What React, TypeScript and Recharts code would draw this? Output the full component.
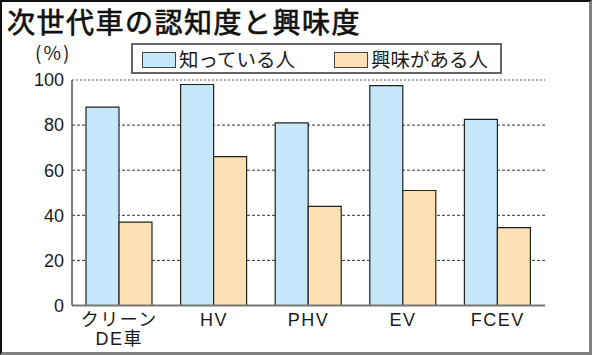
import { BarChart, Bar, XAxis, YAxis, CartesianGrid, ReferenceLine, Legend } from 'recharts'

const categories = ['クリーン\nDE車', 'HV', 'PHV', 'EV', 'FCEV']
const knownValues = [88, 98, 81, 97.5, 82.5]
const interestValues = [37, 66, 44, 51, 34.5]
const seriesNames = ['知っている人', '興味がある人']
const yTicks = [0, 20, 40, 60, 80, 100]

const JP = '"Noto Sans CJK JP", "Noto Sans", sans-serif'
const LATIN_JP = '"Liberation Sans", "Noto Sans CJK JP", sans-serif'
const BLUE = '#c6e7f9'
const ORANGE = '#fde1b4'

const data = categories.map((name, i) => ({
  name,
  known: knownValues[i],
  interest: interestValues[i],
}))

function CategoryTick({ x, y, payload }: any) {
  const lines = String(payload.value).split('\n')
  return (
    <text x={x} y={y} textAnchor="middle" fill="#1a1a1a" fontSize={18} fontFamily={LATIN_JP}>
      {lines.map((l, i) => (
        <tspan key={i} x={x} dy={i === 0 ? 12 : 19} letterSpacing={1.5}>
          {l}
        </tspan>
      ))}
    </text>
  )
}

function LegendBox() {
  const item = (left: number, color: string, label: string) => (
    <>
      <div
        style={{
          position: 'absolute',
          left,
          top: 7,
          width: 32,
          height: 14,
          background: color,
          border: '1px solid #444',
        }}
      />
      <div style={{ position: 'absolute', left: left + 37, top: 0, lineHeight: '27px' }}>{label}</div>
    </>
  )
  return (
    <div
      style={{
        position: 'relative',
        width: 367,
        height: 27,
        border: '2px solid #666',
        background: '#fff',
        fontFamily: JP,
        fontSize: 19.5,
        color: '#1a1a1a',
      }}
    >
      {item(9, BLUE, seriesNames[0])}
      {item(201, ORANGE, seriesNames[1])}
    </div>
  )
}

export default function App() {
  return (
    <div
      style={{
        position: 'absolute',
        left: 0,
        top: 0,
        width: 592,
        height: 355,
        background: '#fff',
        overflow: 'hidden',
      }}
    >
      <BarChart
        width={592}
        height={355}
        data={data}
        margin={{ top: 80, right: 47, bottom: 9.5, left: 12 }}
        barGap={0}
      >
        <CartesianGrid
          vertical={false}
          horizontalValues={[20, 40, 60, 80]}
          stroke="#333"
          strokeDasharray="3 2"
        />
        <ReferenceLine y={100} stroke="#8a8a8a" strokeWidth={1.5} strokeDasharray="2 2" />
        <XAxis
          dataKey="name"
          height={40}
          tickLine={false}
          axisLine={{ stroke: '#777', strokeWidth: 2 }}
          tick={<CategoryTick />}
          interval={0}
        />
        <YAxis
          width={60}
          domain={[0, 100]}
          ticks={yTicks}
          tickLine={false}
          axisLine={{ stroke: '#555', strokeWidth: 1.5 }}
          tick={{ fontSize: 18, fill: '#1a1a1a', fontFamily: '"Liberation Sans Narrow", "Liberation Sans", sans-serif' }}
        />
        <Legend
          layout="horizontal"
          verticalAlign="middle"
          align="center"
          wrapperStyle={{ left: 131, top: 43, width: 371, height: 31 }}
          content={() => <LegendBox />}
        />
        <Bar
          dataKey="known"
          name={seriesNames[0]}
          fill={BLUE}
          stroke="#222"
          strokeWidth={1.2}
          barSize={33}
          isAnimationActive={false}
        />
        <Bar
          dataKey="interest"
          name={seriesNames[1]}
          fill={ORANGE}
          stroke="#222"
          strokeWidth={1.2}
          barSize={33}
          isAnimationActive={false}
        />
      </BarChart>
      <div
        style={{
          position: 'absolute',
          left: 7,
          top: 7,
          fontFamily: JP,
          fontSize: 28,
          lineHeight: '28px',
          letterSpacing: 1.5,
          fontWeight: 400,
          WebkitTextStroke: '0.7px #111',
          color: '#111',
          whiteSpace: 'nowrap',
        }}
      >
        次世代車の認知度と興味度
      </div>
      <div
        style={{
          position: 'absolute',
          left: 35,
          top: 42,
          fontFamily: JP,
          fontSize: 19,
          lineHeight: '19px',
          letterSpacing: 2,
          color: '#1a1a1a',
        }}
      >
        (%)
      </div>
      <div
        style={{
          position: 'absolute',
          inset: 0,
          boxSizing: 'border-box',
          borderLeft: '2px solid #111',
          borderTop: '2px solid #111',
          borderRight: '3px solid #808080',
          borderBottom: '3px solid #808080',
          pointerEvents: 'none',
        }}
      />
    </div>
  )
}
